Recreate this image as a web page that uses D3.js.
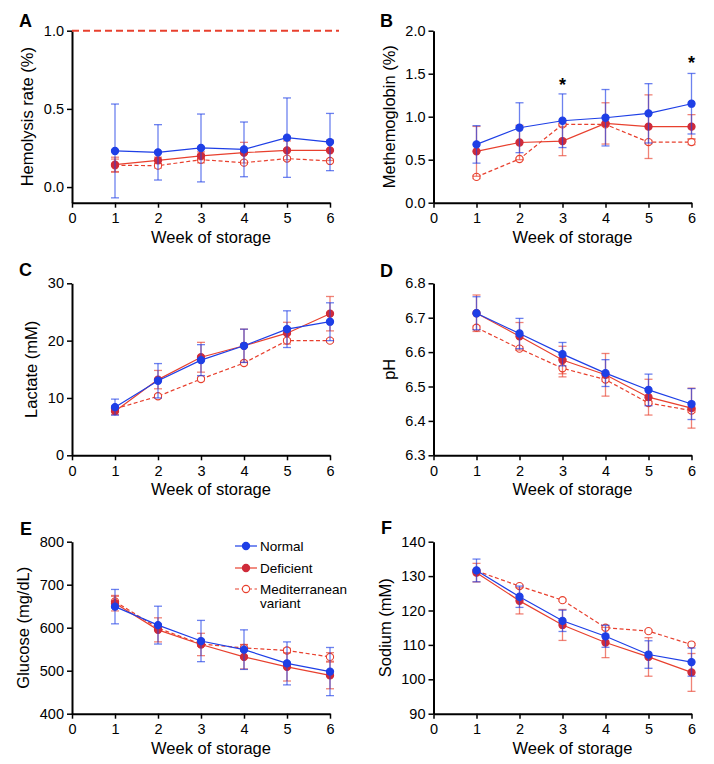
<!DOCTYPE html>
<html>
<head>
<meta charset="utf-8">
<script src="https://cdn.jsdelivr.net/npm/d3@7"></script>
<style>
  body { margin: 0; background: #fff; }
  svg { display: block; font-family: "Liberation Sans", Arial, sans-serif; }
  .axis path, .axis line { stroke: #000; }
  .axis path { stroke-width: 2; }
  .axis line { stroke-width: 1.5; }
  .axis text { font-size: 14.5px; fill: #000; }
</style>
</head>
<body>
<svg width="714" height="764"></svg>
<script>
'use strict';

// weeks of storage (x values)
var weeks = [1, 2, 3, 4, 5, 6];
var seriesNames = ['Normal', 'Deficient', 'Mediterranean variant'];

// A: hemolysis rate (%), mean and SD
var hemoNormal = [0.231, 0.222, 0.25, 0.241, 0.316, 0.288];
var hemoNormalSd = [0.30, 0.177, 0.217, 0.175, 0.254, 0.183];
var hemoDef = [0.143, 0.171, 0.20, 0.22, 0.235, 0.235];
var hemoDefSd = [0.048, 0.02, 0.025, 0.066, 0.06, 0.065];
var hemoMed = [0.139, 0.137, 0.175, 0.156, 0.182, 0.167];
var hemoMedSd = [0.04, 0.015, 0.02, 0.01, 0.01, 0.01];
var hemoLimit = 1.0;

// B: methemoglobin (%)
var methNormal = [0.678, 0.872, 0.953, 0.988, 1.039, 1.151];
var methNormalSd = [0.218, 0.29, 0.312, 0.328, 0.345, 0.352];
var methDef = [0.597, 0.70, 0.717, 0.922, 0.884, 0.884];
var methDefSd = [0.29, 0.2, 0.17, 0.24, 0.37, 0.14];
var methMed = [0.30, 0.508, 0.91, 0.91, 0.705, 0.705];
var methMedSd = [0.02, 0.01, 0.01, 0.02, 0.02, 0.03];
var methStarWeeks = [3, 6];
var methStarValues = [1.42, 1.667];

// C: lactate (mM)
var lacNormal = [8.4, 13.0, 16.6, 19.1, 22.0, 23.3];
var lacNormalSd = [1.4, 3.0, 2.7, 2.9, 3.2, 3.3];
var lacDef = [7.7, 13.2, 17.1, 19.1, 21.3, 24.7];
var lacDefSd = [0.6, 1.6, 2.6, 2.9, 1.9, 3.0];
var lacMed = [8.1, 10.3, 13.3, 16.1, 20.0, 20.0];
var lacMedSd = [0.3, 0.3, 0.3, 0.3, 0.3, 0.3];

// D: pH
var phNormal = [6.713, 6.654, 6.594, 6.539, 6.49, 6.449];
var phNormalSd = [0.048, 0.044, 0.034, 0.039, 0.046, 0.045];
var phDef = [6.713, 6.646, 6.577, 6.534, 6.469, 6.437];
var phDefSd = [0.053, 0.04, 0.04, 0.062, 0.052, 0.058];
var phMed = [6.671, 6.61, 6.553, 6.52, 6.452, 6.43];
var phMedSd = [0.005, 0.005, 0.025, 0.005, 0.005, 0.005];

// E: glucose (mg/dL)
var gluNormal = [649, 606, 569, 549, 517, 498];
var gluNormalSd = [40, 44, 48, 46, 50, 56];
var gluDef = [657, 595, 561, 532, 509, 489];
var gluDefSd = [18, 28, 26, 28, 33, 31];
var gluMed = [661, 599, 562, 553, 547, 532];
var gluMedSd = [12, 5, 5, 8, 5, 10];

// F: sodium (mM)
var naNormal = [131.65, 124.0, 117.0, 112.5, 107.2, 105.0];
var naNormalSd = [3.3, 3.1, 3.1, 3.2, 4.0, 4.1];
var naDef = [131.0, 122.8, 115.8, 110.7, 106.5, 102.0];
var naDefSd = [2.7, 3.8, 4.5, 4.4, 5.6, 5.5];
var naMed = [131.5, 127.1, 123.0, 115.0, 114.0, 110.1];
var naMedSd = [0.3, 0.3, 0.3, 0.5, 0.3, 0.3];

var svg = d3.select('svg');

var blue = '#1e3fe6';
var red = '#e8402e';
var defFill = '#cf2b3a';

// layout of the 3x2 grid
var colX = [72, 433.5];
var rowTop = [30.7, 283.3, 541.7];
var plotW = 258;
var plotH = 172;
var letterPos = [[19, 27], [380, 27], [19, 276], [380, 277], [20, 535], [381, 534]];

var panels = [
  {letter: 'A', title: 'Hemolysis rate (%)', domain: [-0.1, 1.0], ticks: [0, 0.5, 1.0], fmt: '.1f',
    vals: [hemoNormal, hemoDef, hemoMed], sds: [hemoNormalSd, hemoDefSd, hemoMedSd]},
  {letter: 'B', title: 'Methemoglobin (%)', domain: [0, 2.0], ticks: [0, 0.5, 1.0, 1.5, 2.0], fmt: '.1f',
    vals: [methNormal, methDef, methMed], sds: [methNormalSd, methDefSd, methMedSd]},
  {letter: 'C', title: 'Lactate (mM)', domain: [0, 30], ticks: [0, 10, 20, 30], fmt: 'd',
    vals: [lacNormal, lacDef, lacMed], sds: [lacNormalSd, lacDefSd, lacMedSd]},
  {letter: 'D', title: 'pH', domain: [6.3, 6.8], ticks: [6.3, 6.4, 6.5, 6.6, 6.7, 6.8], fmt: '.1f',
    vals: [phNormal, phDef, phMed], sds: [phNormalSd, phDefSd, phMedSd]},
  {letter: 'E', title: 'Glucose (mg/dL)', domain: [400, 800], ticks: [400, 500, 600, 700, 800], fmt: 'd',
    vals: [gluNormal, gluDef, gluMed], sds: [gluNormalSd, gluDefSd, gluMedSd]},
  {letter: 'F', title: 'Sodium (mM)', domain: [90, 140], ticks: [90, 100, 110, 120, 130, 140], fmt: 'd',
    vals: [naNormal, naDef, naMed], sds: [naNormalSd, naDefSd, naMedSd]}
];

// style per series: Normal, Deficient, Mediterranean
var lineColor = [blue, red, red];
var markFill = [blue, defFill, '#fff'];
var markStroke = [blue, defFill, red];
var dash = [null, null, '4,2.5'];

panels.forEach(drawPanel);
drawLegend();

function drawPanel(p, i) {
  var col = i % 2;
  var row = Math.floor(i / 2);
  var left = colX[col];
  var top = rowTop[row];

  var x = d3.scaleLinear().domain([0, 6]).range([left, left + plotW]);
  var y = d3.scaleLinear().domain(p.domain).range([top + plotH, top]);

  var g = svg.append('g');

  // axes
  var yAxis = g.append('g')
    .attr('class', 'axis')
    .attr('transform', 'translate(' + left + ',0)')
    .call(d3.axisLeft(y).tickValues(p.ticks).tickFormat(d3.format(p.fmt))
      .tickSize(5).tickSizeOuter(0).tickPadding(3));

  g.append('g')
    .attr('class', 'axis')
    .attr('transform', 'translate(0,' + (top + plotH) + ')')
    .call(d3.axisBottom(x).tickValues([0, 1, 2, 3, 4, 5, 6]).tickFormat(d3.format('d'))
      .tickSize(5).tickSizeOuter(0).tickPadding(5));

  // y label placed beside the widest tick label
  var labelW = d3.max(yAxis.selectAll('text').nodes(), function(n) { return n.getBBox().width; });
  g.append('text')
    .attr('transform', 'translate(' + (left - labelW - 18.5) + ',' + (top + plotH / 2) + ') rotate(-90)')
    .attr('text-anchor', 'middle')
    .style('font-size', '16.5px')
    .text(p.title);

  g.append('text')
    .attr('x', left + plotW / 2 + 10)
    .attr('y', top + plotH + 40)
    .attr('text-anchor', 'middle')
    .style('font-size', '16.5px')
    .text('Week of storage');

  g.append('text')
    .attr('x', letterPos[i][0])
    .attr('y', letterPos[i][1])
    .style('font-size', '18px')
    .style('font-weight', 'bold')
    .text(p.letter);

  if (p.letter === 'A') {
    g.append('line')
      .attr('x1', left).attr('x2', left + plotW + 9)
      .attr('y1', y(hemoLimit)).attr('y2', y(hemoLimit))
      .attr('stroke', red)
      .attr('stroke-width', 2)
      .attr('stroke-dasharray', '7,4');
  }

  if (p.letter === 'B') {
    g.selectAll('.star')
      .data(methStarWeeks)
      .enter()
      .append('text')
      .attr('x', function(d) { return x(d); })
      .attr('y', function(d, k) { return y(methStarValues[k]) + 10; })
      .attr('text-anchor', 'middle')
      .style('font-size', '18px')
      .style('font-weight', 'bold')
      .text('*');
  }

  // draw Mediterranean first, then Deficient, Normal on top
  [2, 1, 0].forEach(function(s) {
    var pts = weeks.map(function(w, k) {
      return {w: w, v: p.vals[s][k], sd: p.sds[s][k]};
    });
    var sg = g.append('g');

    var bars = sg.selectAll('.err')
      .data(pts)
      .enter()
      .append('g')
      .attr('stroke', lineColor[s])
      .attr('stroke-opacity', 0.65)
      .attr('stroke-width', 1.3);
    bars.append('line')
      .attr('x1', function(d) { return x(d.w); })
      .attr('x2', function(d) { return x(d.w); })
      .attr('y1', function(d) { return y(d.v - d.sd); })
      .attr('y2', function(d) { return y(d.v + d.sd); });
    bars.append('line')
      .attr('x1', function(d) { return x(d.w) - 4; })
      .attr('x2', function(d) { return x(d.w) + 4; })
      .attr('y1', function(d) { return y(d.v + d.sd); })
      .attr('y2', function(d) { return y(d.v + d.sd); });
    bars.append('line')
      .attr('x1', function(d) { return x(d.w) - 4; })
      .attr('x2', function(d) { return x(d.w) + 4; })
      .attr('y1', function(d) { return y(d.v - d.sd); })
      .attr('y2', function(d) { return y(d.v - d.sd); });

    sg.append('path')
      .datum(pts)
      .attr('fill', 'none')
      .attr('stroke', lineColor[s])
      .attr('stroke-width', 1.2)
      .attr('stroke-dasharray', dash[s])
      .attr('d', d3.line().x(function(d) { return x(d.w); }).y(function(d) { return y(d.v); }));

    sg.selectAll('circle')
      .data(pts)
      .enter()
      .append('circle')
      .attr('cx', function(d) { return x(d.w); })
      .attr('cy', function(d) { return y(d.v); })
      .attr('r', 3.6)
      .attr('fill', markFill[s])
      .attr('stroke', markStroke[s])
      .attr('stroke-width', 1.1);
  });
}

function drawLegend() {
  var lx = 235;
  var rowsY = [546, 568, 589];
  var lg = svg.append('g');
  seriesNames.forEach(function(name, s) {
    var yy = rowsY[s];
    lg.append('line')
      .attr('x1', lx).attr('x2', lx + 22)
      .attr('y1', yy).attr('y2', yy)
      .attr('stroke', lineColor[s])
      .attr('stroke-width', 1.2)
      .attr('stroke-dasharray', dash[s]);
    lg.append('circle')
      .attr('cx', lx + 11).attr('cy', yy).attr('r', 3.6)
      .attr('fill', markFill[s])
      .attr('stroke', markStroke[s])
      .attr('stroke-width', 1.1);
    var words = s === 2 ? ['Mediterranean', 'variant'] : [name];
    words.forEach(function(wd, k) {
      lg.append('text')
        .attr('x', lx + 25)
        .attr('y', yy + 5 + k * 14)
        .style('font-size', '13.5px')
        .text(wd);
    });
  });
}
</script>
</body>
</html>
